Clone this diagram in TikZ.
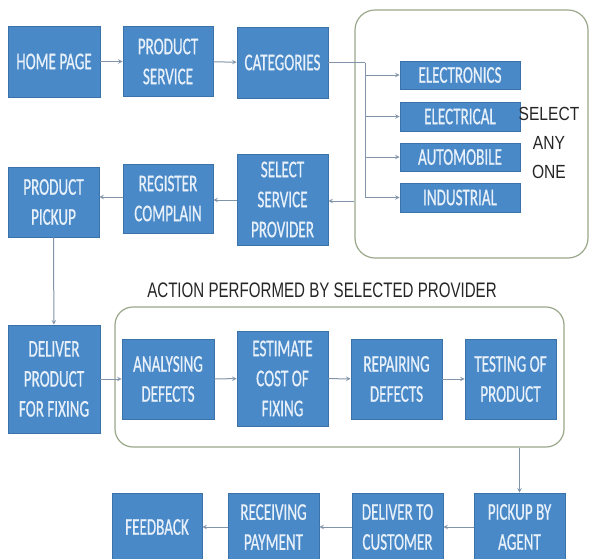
\documentclass[tikz,border=0pt]{standalone}
\usepackage{fontspec}
\setmainfont{Carlito}[FakeStretch=0.63, FakeBold=0.5]
\newfontfamily\titlefont{Liberation Sans}[FakeStretch=0.72]
\newfontfamily\selfont{Liberation Sans}[FakeStretch=0.82]
\usetikzlibrary{shapes.geometric, arrows, positioning}
\definecolor{boxblue}{HTML}{4A89C8}
\definecolor{boxedge}{HTML}{3C72AA}
\definecolor{boxtext}{HTML}{E8F1FA}
\definecolor{linkgray}{HTML}{8294AA}
\definecolor{groupedge}{HTML}{9AA88A}
\tikzstyle{blk} = [rectangle, draw=boxedge, fill=boxblue, text=boxtext, align=center, inner sep=0pt, line width=0.8pt, font=\fontsize{24}{30}\selectfont]
\tikzstyle{group} = [rectangle, rounded corners=20pt, draw=groupedge, line width=1.2pt]
\tikzstyle{arrow} = [draw=linkgray, line width=1pt, ->, >=stealth]
\tikzstyle{link} = [draw=linkgray, line width=1pt]

\begin{document}
\begin{tikzpicture}[x=1pt, y=-1pt]
  \fill[white] (0,0) rectangle (590,558);
  \useasboundingbox (0,0) rectangle (590,558);

  \node[group, minimum width=233, minimum height=248] (g1) at (471.5,134) {};
  \node[group, rounded corners=18pt, minimum width=449, minimum height=140] (g2) at (339.5,377) {};

  \node[blk, minimum width=92, minimum height=71] (home) at (54,61.5) {HOME PAGE};
  \node[blk, minimum width=90, minimum height=70] (prod) at (168,61.5) {PRODUCT\\SERVICE};
  \node[blk, minimum width=91, minimum height=71] (cat) at (282.5,62.5) {CATEGORIES};

  \node[blk, minimum width=120, minimum height=28] (elec) at (460,75) {ELECTRONICS};
  \node[blk, minimum width=120, minimum height=29] (elct) at (460,116.5) {ELECTRICAL};
  \node[blk, minimum width=120, minimum height=28] (auto) at (460,157) {AUTOMOBILE};
  \node[blk, minimum width=120, minimum height=29] (ind) at (460,197.5) {INDUSTRIAL};
  \node[align=center, font=\selfont\fontsize{19}{29}\selectfont, text=black!85] (any) at (549,143) {SELECT\\ANY\\ONE};

  \node[blk, minimum width=91, minimum height=91] (sel) at (282.5,199.5) {SELECT\\SERVICE\\PROVIDER};
  \node[blk, minimum width=90, minimum height=69] (reg) at (168,198.5) {REGISTER\\COMPLAIN};
  \node[blk, minimum width=91, minimum height=70] (pick) at (53.5,202) {PRODUCT\\PICKUP};

  \node[font=\titlefont\fontsize{21}{25}\selectfont, text=black!85] (title) at (322,290) {ACTION PERFORMED BY SELECTED PROVIDER};
  \node[blk, minimum width=92, minimum height=108] (dlv) at (54,379) {DELIVER\\PRODUCT\\FOR FIXING};
  \node[blk, minimum width=92, minimum height=80] (ana) at (168,379) {ANALYSING\\DEFECTS};
  \node[blk, minimum width=91, minimum height=95] (est) at (282.5,378.5) {ESTIMATE\\COST OF\\FIXING};
  \node[blk, minimum width=91, minimum height=80] (rep) at (396.5,379) {REPAIRING\\DEFECTS};
  \node[blk, minimum width=91, minimum height=80] (tst) at (510.5,379) {TESTING OF\\PRODUCT};

  \node[blk, minimum width=90, minimum height=68] (fb) at (157,527) {FEEDBACK};
  \node[blk, minimum width=91, minimum height=68] (pay) at (273.5,527) {RECEIVING\\PAYMENT};
  \node[blk, minimum width=91, minimum height=68] (cust) at (397.5,527) {DELIVER TO\\CUSTOMER};
  \node[blk, minimum width=91, minimum height=68] (agent) at (519.5,527) {PICKUP BY\\AGENT};

  \coordinate (split) at (365,62.5);

  \draw[arrow] (home) -- (prod);
  \draw[arrow] (prod) -- (cat);
  \draw[link] (cat.east) -- (split);
  \draw[arrow] (split) |- (elec.west);
  \draw[arrow] (split) |- (elct.west);
  \draw[arrow] (split) |- (auto.west);
  \draw[arrow] (split) |- (ind.west);
  \draw[arrow] (g1.west |- 0,201) -- (sel.east |- 0,201);
  \draw[arrow] (sel.west |- 0,200) -- (reg.east |- 0,200);
  \draw[arrow] (reg.west |- 0,197) -- (pick.east |- 0,197);
  \draw[arrow] (pick) -- (dlv);
  \draw[arrow] (dlv) -- (ana);
  \draw[arrow] (ana) -- (est);
  \draw[arrow] (est) -- (rep);
  \draw[arrow] (rep) -- (tst);
  \draw[arrow] (g2.south -| agent) -- (agent);
  \draw[arrow] (agent) -- (cust);
  \draw[arrow] (cust) -- (pay);
  \draw[arrow] (pay) -- (fb);
\end{tikzpicture}
\end{document}
